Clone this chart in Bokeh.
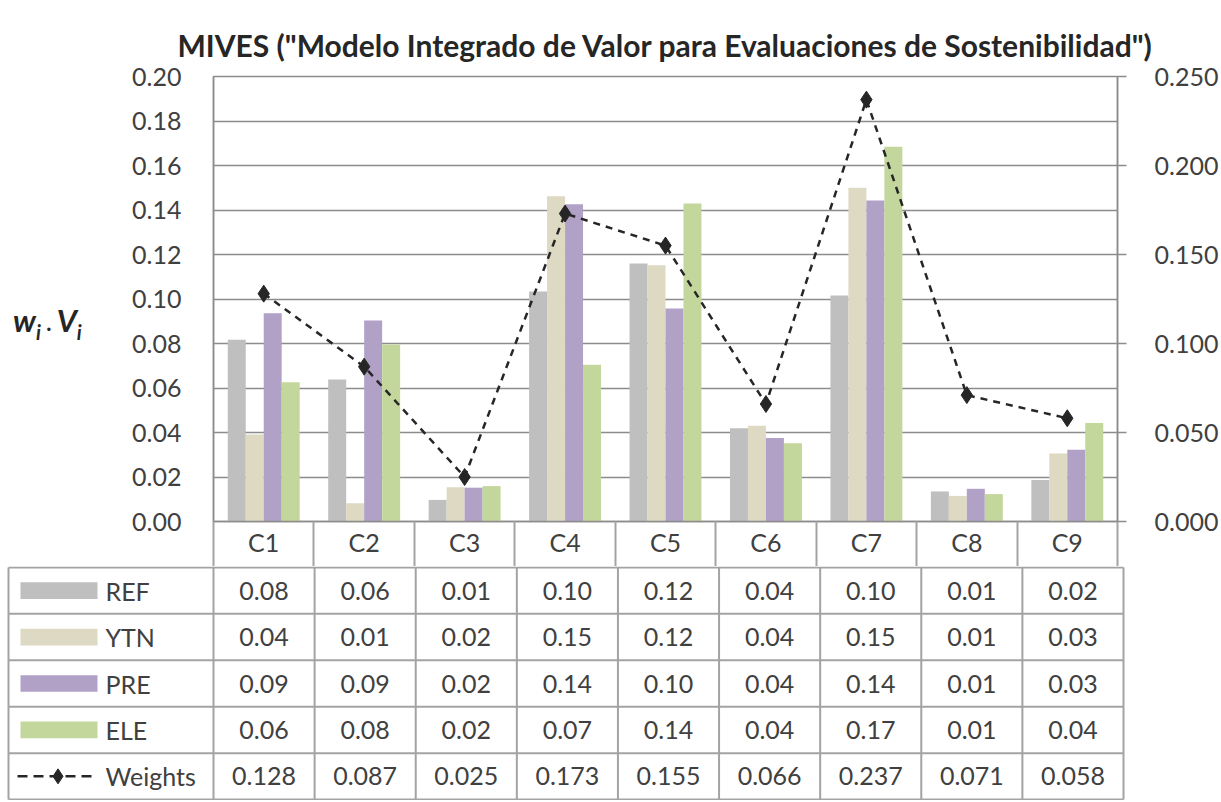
from bokeh.plotting import figure
from bokeh.layouts import row
from bokeh.models import Range1d, LinearAxis, FixedTicker, ColumnDataSource, NumeralTickFormatter, Div
from bokeh.core.properties import value
from bokeh.embed import file_html
from bokeh.resources import INLINE

# ---------------- data ----------------
categories = ["C1", "C2", "C3", "C4", "C5", "C6", "C7", "C8", "C9"]
series_names = ["REF", "YTN", "PRE", "ELE"]
ref = [0.0817, 0.0638, 0.0097, 0.1034, 0.1160, 0.0419, 0.1016, 0.0135, 0.0186]
ytn = [0.0391, 0.0082, 0.0154, 0.1462, 0.1152, 0.0430, 0.1500, 0.0115, 0.0306]
pre = [0.0936, 0.0903, 0.0152, 0.1426, 0.0957, 0.0375, 0.1443, 0.0147, 0.0322]
ele = [0.0626, 0.0795, 0.0159, 0.0704, 0.1429, 0.0352, 0.1684, 0.0123, 0.0443]
weights = [0.128, 0.087, 0.025, 0.173, 0.155, 0.066, 0.237, 0.071, 0.058]
left_ticks = [0.00, 0.02, 0.04, 0.06, 0.08, 0.10, 0.12, 0.14, 0.16, 0.18, 0.20]
right_ticks = [0.000, 0.050, 0.100, 0.150, 0.200, 0.250]
title_text = 'MIVES ("Modelo Integrado de Valor para Evaluaciones de Sostenibilidad")'

colors = ["#BFBFBF", "#DDD9C3", "#B2A1C7", "#C3D69B"]
series = [ref, ytn, pre, ele]
FONT = "Lato"
TXT = "#404040"
GRID = "#8C8C8C"
TBL = "#A3A3A3"
FS = "25px"

n = len(categories)
centers = [i + 0.5 for i in range(n)]

# ---------------- y-axis label (left of chart) ----------------
ylab = Div(
    text=('<span style="font-family:Lato;font-size:31px;font-weight:bold;font-style:italic;'
          'color:#262626;white-space:nowrap;line-height:1">'
          'w<sub style="font-size:20px;vertical-align:-8px">i</sub>'
          '<span style="font-style:normal;font-size:22px;vertical-align:1px"> . </span>'
          'V<sub style="font-size:20px;vertical-align:-8px">i</sub></span>'),
    width=87, height=45, margin=(305, 0, 0, 13))

# ---------------- chart ----------------
p = figure(width=1121, height=566, x_range=Range1d(0, n), y_range=Range1d(0, 0.2),
           output_backend="svg", toolbar_location=None,
           min_border_left=113, min_border_right=98, min_border_top=76, min_border_bottom=45)
p.extra_y_ranges = {"w": Range1d(0, 0.25)}

p.title.text = title_text
p.title.text_font = FONT
p.title.text_font_size = "30px"
p.title.text_font_style = "bold"
p.title.text_color = "#262626"
p.title.align = "center"
p.title.standoff = 28

p.outline_line_color = GRID
p.outline_line_width = 1.5
p.xgrid.visible = False
p.ygrid.ticker = FixedTicker(ticks=left_ticks)
p.ygrid.grid_line_color = GRID
p.ygrid.grid_line_width = 1.5

# left axis
ya = p.yaxis[0]
ya.ticker = FixedTicker(ticks=left_ticks)
ya.formatter = NumeralTickFormatter(format="0.00")
ya.major_tick_out = 0
ya.major_tick_in = 0
ya.minor_tick_out = 0
ya.minor_tick_in = 0
ya.axis_line_color = GRID
ya.axis_line_width = 1.5
ya.major_label_text_font = FONT
ya.major_label_text_font_size = FS
ya.major_label_text_color = TXT
ya.major_label_standoff = 32

# right axis
ra = LinearAxis(y_range_name="w", ticker=FixedTicker(ticks=right_ticks),
                formatter=NumeralTickFormatter(format="0.000"))
ra.major_tick_out = 9
ra.major_tick_in = 0
ra.minor_tick_out = 0
ra.minor_tick_in = 0
ra.major_tick_line_color = GRID
ra.major_tick_line_width = 1.5
ra.axis_line_color = GRID
ra.axis_line_width = 1.5
ra.major_label_text_font = FONT
ra.major_label_text_font_size = FS
ra.major_label_text_color = TXT
ra.major_label_standoff = 28
p.add_layout(ra, "right")

# bottom axis (category header row of the data table)
xa = p.xaxis[0]
xa.ticker = FixedTicker(ticks=centers, minor_ticks=list(range(n + 1)))
xa.major_label_overrides = {c: lab for c, lab in zip(centers, categories)}
xa.major_tick_out = 0
xa.major_tick_in = 0
xa.minor_tick_out = 45
xa.minor_tick_in = 0
xa.minor_tick_line_color = TBL
xa.minor_tick_line_width = 2
xa.axis_line_color = GRID
xa.axis_line_width = 1.5
xa.major_label_text_font = FONT
xa.major_label_text_font_size = FS
xa.major_label_text_color = TXT
xa.major_label_standoff = -40

# bars
bw = 0.179
offsets = [-1.5 * bw, -0.5 * bw, 0.5 * bw, 1.5 * bw]
for vals, col, off in zip(series, colors, offsets):
    src = ColumnDataSource(dict(x=[c + off for c in centers], top=vals))
    p.vbar(x="x", top="top", width=bw, bottom=0, source=src, fill_color=col, line_color=None)

# weights line
wsrc = ColumnDataSource(dict(x=centers, w=weights))
p.line(x="x", y="w", source=wsrc, y_range_name="w", line_color="#262626",
       line_width=2.5, line_dash="7 6")
p.scatter(x="x", y="w", source=wsrc, y_range_name="w", marker="diamond", size=17,
          fill_color="#262626", line_color="#262626")

# ---------------- table ----------------
ppu = 910 / 9.0
x0 = -213 / ppu
x1 = (1125 - 213) / ppu
t = figure(width=1221, height=234, x_range=Range1d(x0, x1), y_range=Range1d(-0.02, 5.02),
           output_backend="svg", toolbar_location=None, x_axis_type=None, y_axis_type=None,
           min_border_left=0, min_border_right=96, min_border_top=0, min_border_bottom=0)
t.outline_line_color = None
t.grid.visible = False

left_edge = x0 + 8 / ppu
t.segment(x0=[left_edge] * 6, y0=list(range(6)), x1=[n] * 6, y1=list(range(6)),
          line_color=TBL, line_width=2)
vx = [left_edge] + list(range(n + 1))
t.segment(x0=vx, y0=[0] * len(vx), x1=vx, y1=[5] * len(vx), line_color=TBL, line_width=2)

row_names = series_names + ["Weights"]
row_y = [4.5, 3.5, 2.5, 1.5, 0.5]
sw_l = x0 + 20 / ppu
sw_r = x0 + 97 / ppu
lab_x = x0 + 105 / ppu

t.quad(left=[sw_l] * 4, right=[sw_r] * 4, bottom=[y - 0.18 for y in row_y[:4]],
       top=[y + 0.18 for y in row_y[:4]], fill_color=colors, line_color=None)
t.line(x=[sw_l - 3 / ppu, sw_r - 6 / ppu], y=[row_y[4], row_y[4]], line_color="#262626",
       line_width=2.5, line_dash="10 6")
t.scatter(x=[(sw_l + sw_r) / 2 - 1 / ppu], y=[row_y[4]], marker="diamond", size=15,
          fill_color="#262626", line_color="#262626")

t.text(x=[lab_x] * 5, y=row_y, text=row_names, text_font=value(FONT),
       text_font_size=FS, text_color=TXT, text_baseline="middle", text_align="left")

tx, ty, tt = [], [], []
for vals, y in zip(series, row_y[:4]):
    for c, v in zip(centers, vals):
        tx.append(c); ty.append(y); tt.append(f"{v:.2f}")
for c, v in zip(centers, weights):
    tx.append(c); ty.append(row_y[4]); tt.append(f"{v:.3f}")
t.text(x=tx, y=ty, text=tt, text_font=value(FONT), text_font_size=FS,
       text_color=TXT, text_baseline="middle", text_align="center")

top = row(ylab, p, spacing=0)
open("out.html", "w").write(file_html([top, t], INLINE))
